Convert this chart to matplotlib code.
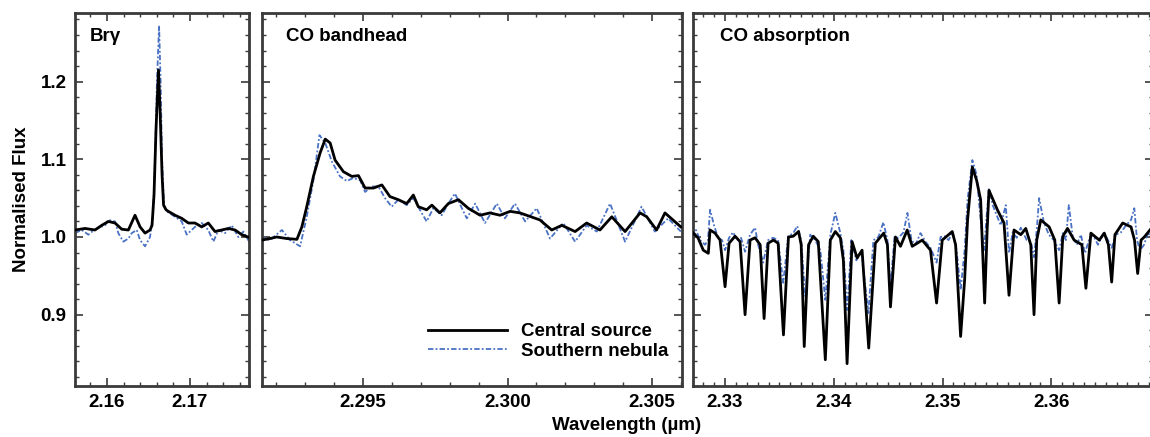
import numpy as np
import matplotlib
matplotlib.use("Agg")
import matplotlib.pyplot as plt
from matplotlib.ticker import MultipleLocator

plt.rcParams['font.family'] = ['Liberation Sans', 'DejaVu Sans']
plt.rcParams['font.weight'] = 'bold'

# --- Br gamma panel ---
brg_wave_c = [2.15614, 2.15735, 2.15855, 2.15936, 2.16016, 2.16096, 2.16177, 2.16257,
              2.16337, 2.16398, 2.16458, 2.16518, 2.16542, 2.16566, 2.16590, 2.16620,
              2.16639, 2.16663, 2.16681, 2.16711, 2.16739, 2.16819, 2.16900, 2.16980,
              2.17060, 2.17141, 2.17220, 2.17301, 2.17382, 2.17461, 2.17542, 2.17623, 2.17723]
brg_flux_c = [1.009, 1.011, 1.009, 1.015, 1.020, 1.018, 1.010, 1.009,
              1.028, 1.013, 1.005, 1.009, 1.015, 1.054, 1.138, 1.215,
              1.163, 1.080, 1.041, 1.035, 1.033, 1.028, 1.024, 1.018,
              1.018, 1.013, 1.018, 1.007, 1.009, 1.011, 1.009, 1.003, 0.999]
brg_wave_n = [2.15614, 2.15695, 2.15775, 2.15855, 2.15976, 2.16016, 2.16096, 2.16136,
              2.16196, 2.16257, 2.16298, 2.16358, 2.16398, 2.16458, 2.16518, 2.16554,
              2.16578, 2.16602, 2.16627, 2.16645, 2.16663, 2.16687, 2.16719, 2.16819,
              2.16900, 2.16960, 2.17020, 2.17060, 2.17141, 2.17220, 2.17281, 2.17341,
              2.17422, 2.17502, 2.17582, 2.17643, 2.17723]
brg_flux_n = [1.005, 1.009, 1.003, 1.010, 1.015, 1.022, 1.020, 1.005,
              0.994, 0.998, 1.005, 1.009, 0.996, 0.988, 1.000, 1.028,
              1.099, 1.202, 1.272, 1.202, 1.099, 1.041, 1.033, 1.026,
              1.020, 1.003, 1.009, 1.013, 1.018, 1.009, 0.994, 1.009,
              1.005, 1.015, 1.000, 1.007, 0.992]

# --- CO bandhead panel ---
bh_wave_c = [2.29149, 2.29178, 2.29201, 2.29236, 2.29271, 2.29288, 2.29305, 2.29328,
             2.29351, 2.29369, 2.29386, 2.29403, 2.29432, 2.29461, 2.29484, 2.29507,
             2.29536, 2.29565, 2.29593, 2.29622, 2.29651, 2.29674, 2.29691, 2.29720,
             2.29738, 2.29766, 2.29795, 2.29830, 2.29864, 2.29905, 2.29939, 2.29974,
             2.30009, 2.30043, 2.30066, 2.30112, 2.30153, 2.30188, 2.30234, 2.30274,
             2.30320, 2.30361, 2.30407, 2.30459, 2.30482, 2.30516, 2.30545, 2.30600]
bh_flux_c = [0.996, 0.998, 1.000, 0.998, 0.997, 1.013, 1.039, 1.078,
             1.108, 1.126, 1.121, 1.099, 1.084, 1.078, 1.079, 1.063,
             1.063, 1.067, 1.052, 1.048, 1.043, 1.054, 1.039, 1.035,
             1.041, 1.031, 1.043, 1.048, 1.037, 1.028, 1.031, 1.028,
             1.033, 1.031, 1.028, 1.022, 1.009, 1.015, 1.007, 1.018,
             1.009, 1.026, 1.007, 1.031, 1.026, 1.009, 1.031, 1.013]
bh_wave_n = [2.29144, 2.29178, 2.29219, 2.29247, 2.29282, 2.29305, 2.29328, 2.29349,
             2.29369, 2.29392, 2.29420, 2.29444, 2.29466, 2.29490, 2.29507, 2.29530,
             2.29553, 2.29576, 2.29599, 2.29622, 2.29651, 2.29674, 2.29695, 2.29720,
             2.29743, 2.29772, 2.29795, 2.29818, 2.29842, 2.29859, 2.29888, 2.29922,
             2.29963, 2.29991, 2.30026, 2.30061, 2.30101, 2.30147, 2.30193, 2.30234,
             2.30274, 2.30309, 2.30355, 2.30407, 2.30464, 2.30510, 2.30556, 2.30600]
bh_flux_n = [1.000, 0.996, 1.009, 0.996, 0.988, 1.026, 1.073, 1.131,
             1.121, 1.097, 1.078, 1.072, 1.076, 1.073, 1.058, 1.065,
             1.065, 1.050, 1.039, 1.048, 1.041, 1.050, 1.036, 1.020,
             1.037, 1.028, 1.043, 1.056, 1.037, 1.024, 1.043, 1.018,
             1.043, 1.024, 1.043, 1.020, 1.037, 0.998, 1.018, 0.994,
             1.015, 1.007, 1.043, 0.994, 1.039, 1.007, 1.024, 1.007]

# --- CO absorption panel ---
ab_wave_c = [2.32708, 2.32751, 2.32800, 2.32846, 2.32862, 2.32908, 2.32954, 2.33000,
             2.33037, 2.33092, 2.33138, 2.33184, 2.33230, 2.33276, 2.33323, 2.33359,
             2.33396, 2.33445, 2.33488, 2.33537, 2.33583, 2.33627, 2.33676, 2.33700,
             2.33728, 2.33768, 2.33811, 2.33857, 2.33922, 2.33968, 2.34014, 2.34060,
             2.34088, 2.34122, 2.34168, 2.34214, 2.34260, 2.34321, 2.34382, 2.34459,
             2.34493, 2.34521, 2.34567, 2.34613, 2.34675, 2.34721, 2.34813, 2.34889,
             2.34945, 2.34997, 2.35089, 2.35120, 2.35166, 2.35203, 2.35230, 2.35274,
             2.35313, 2.35350, 2.35387, 2.35410, 2.35427, 2.35504, 2.35565, 2.35611,
             2.35657, 2.35719, 2.35765, 2.35811, 2.35841, 2.35866, 2.35903, 2.35980,
             2.36032, 2.36072, 2.36106, 2.36149, 2.36210, 2.36281, 2.36318, 2.36364,
             2.36441, 2.36487, 2.36525, 2.36555, 2.36585, 2.36656, 2.36733, 2.36765,
             2.36794, 2.36825, 2.36855, 2.36930]
ab_flux_c = [1.005, 0.999, 0.983, 0.979, 1.009, 1.005, 0.996, 0.936,
             0.992, 1.001, 0.994, 0.900, 0.996, 0.999, 0.990, 0.895,
             0.992, 0.996, 0.992, 0.874, 1.000, 1.001, 1.007, 0.990,
             0.859, 0.990, 1.001, 0.994, 0.842, 0.996, 1.007, 0.999,
             0.970, 0.837, 0.994, 0.973, 0.983, 0.857, 0.992, 1.005,
             0.990, 0.910, 1.000, 0.988, 1.009, 0.988, 0.996, 0.983,
             0.915, 0.996, 1.007, 0.990, 0.872, 0.945, 1.022, 1.090,
             1.073, 1.048, 0.915, 1.009, 1.060, 1.035, 1.018, 0.925,
             1.009, 1.003, 1.011, 0.990, 0.900, 0.996, 1.022, 1.013,
             0.996, 0.915, 1.001, 1.011, 0.996, 0.990, 0.934, 1.005,
             0.996, 1.005, 0.990, 0.942, 1.003, 1.018, 1.013, 0.996,
             0.953, 0.996, 1.000, 1.013]
ab_wave_n = [2.32708, 2.32733, 2.32770, 2.32816, 2.32843, 2.32862, 2.32899, 2.32935,
             2.32972, 2.33000, 2.33037, 2.33074, 2.33111, 2.33147, 2.33184, 2.33230,
             2.33276, 2.33304, 2.33350, 2.33396, 2.33442, 2.33488, 2.33535, 2.33581,
             2.33627, 2.33664, 2.33700, 2.33737, 2.33783, 2.33829, 2.33876, 2.33922,
             2.33968, 2.34014, 2.34060, 2.34088, 2.34124, 2.34161, 2.34207, 2.34253,
             2.34318, 2.34364, 2.34410, 2.34456, 2.34493, 2.34521, 2.34558, 2.34594,
             2.34641, 2.34677, 2.34714, 2.34751, 2.34797, 2.34843, 2.34889, 2.34945,
             2.34982, 2.35018, 2.35055, 2.35092, 2.35129, 2.35166, 2.35203, 2.35230,
             2.35274, 2.35313, 2.35350, 2.35381, 2.35406, 2.35427, 2.35461, 2.35498,
             2.35535, 2.35581, 2.35611, 2.35645, 2.35682, 2.35719, 2.35774, 2.35811,
             2.35841, 2.35866, 2.35888, 2.35931, 2.35977, 2.36023, 2.36072, 2.36106,
             2.36134, 2.36161, 2.36198, 2.36235, 2.36272, 2.36309, 2.36346, 2.36382,
             2.36429, 2.36484, 2.36521, 2.36555, 2.36594, 2.36641, 2.36687, 2.36733,
             2.36763, 2.36788, 2.36816, 2.36853, 2.36889, 2.36930]
ab_flux_n = [0.999, 1.009, 0.996, 0.990, 0.996, 1.035, 1.015, 0.999,
             0.996, 0.983, 0.999, 1.006, 0.996, 0.999, 0.981, 1.003,
             1.012, 0.990, 0.967, 0.996, 0.999, 0.996, 0.941, 1.001,
             1.005, 1.014, 0.996, 0.923, 1.003, 0.996, 0.983, 0.919,
             1.003, 1.031, 1.005, 0.983, 0.906, 0.996, 0.970, 0.981,
             0.902, 0.996, 1.000, 1.019, 0.996, 0.936, 1.000, 0.999,
             1.006, 1.031, 0.996, 0.990, 1.005, 0.994, 0.986, 0.967,
             1.000, 1.001, 0.996, 1.006, 0.983, 0.932, 0.983, 1.048,
             1.099, 1.080, 1.022, 0.983, 1.028, 1.063, 1.041, 1.028,
             1.015, 1.041, 0.979, 1.006, 0.999, 1.012, 0.996, 0.994,
             0.974, 1.009, 1.050, 1.019, 1.003, 0.996, 0.983, 1.005,
             0.996, 1.041, 0.999, 0.990, 1.003, 0.979, 0.996, 1.003,
             0.990, 1.006, 0.996, 0.986, 1.003, 1.006, 1.015, 1.022,
             1.037, 0.996, 0.983, 0.990, 1.006, 0.996]

panel_titles = ['Brγ', 'CO bandhead', 'CO absorption']
xlims = [(2.15614, 2.17714), (2.29149, 2.30603), (2.32708, 2.36935)]
x_major = [0.01, 0.005, 0.01]
x_minor = [0.002, 0.001, 0.001]
xtick_fmt = ['{:.2f}', '{:.3f}', '{:.2f}']
series_c = [(brg_wave_c, brg_flux_c), (bh_wave_c, bh_flux_c), (ab_wave_c, ab_flux_c)]
series_n = [(brg_wave_n, brg_flux_n), (bh_wave_n, bh_flux_n), (ab_wave_n, ab_flux_n)]

W, H = 1150, 437
fig = plt.figure(figsize=(W / 100, H / 100), dpi=100)
bottom, top = 386, 12.7
boxes = [(75, 249.3), (261.7, 681.7), (693.3, 1153)]
fs = 13.5

blue = '#4a72c4'
spine_col = '#3a3a3a'
axes = []
for i, (x0, x1) in enumerate(boxes):
    ax = fig.add_axes([x0 / W, 1 - bottom / H, (x1 - x0) / W, (bottom - top) / H])
    axes.append(ax)
    wc, fc = series_c[i]
    wn, fn = series_n[i]
    ax.plot(wc, fc, color='black', lw=2.0, label='Central source', zorder=3,
            solid_joinstyle='round')
    ax.plot(wn, fn, color=blue, lw=1.3, linestyle=(0, (3, 1.2, 1, 1.2)),
            label='Southern nebula', zorder=2)
    ax.set_xlim(*xlims[i])
    ax.set_ylim(0.8082, 1.2887)
    ax.xaxis.set_major_locator(MultipleLocator(x_major[i]))
    ax.xaxis.set_minor_locator(MultipleLocator(x_minor[i]))
    ax.yaxis.set_major_locator(MultipleLocator(0.1))
    ax.yaxis.set_minor_locator(MultipleLocator(0.02))
    fmt = xtick_fmt[i]
    ax.xaxis.set_major_formatter(plt.FuncFormatter(lambda v, p, f=fmt: f.format(v)))
    ax.yaxis.set_major_formatter(plt.FuncFormatter(lambda v, p: '{:.1f}'.format(v)))
    ax.tick_params(which='both', direction='in', top=True, right=True,
                   color=spine_col, labelsize=fs, pad=6)
    ax.tick_params(which='major', length=6, width=1.2)
    ax.tick_params(which='minor', length=3, width=1.0)
    if i > 0:
        ax.tick_params(labelleft=False)
    for s in ax.spines.values():
        s.set_color(spine_col)
        s.set_linewidth(2)
    ax.text(0.057 if i else 0.085, 0.96, panel_titles[i], transform=ax.transAxes,
            ha='left', va='top', fontsize=fs, fontweight='bold')

axes[0].set_ylabel('Normalised Flux', fontsize=fs, fontweight='bold', labelpad=8)
axes[1].legend(loc='lower right', bbox_to_anchor=(0.968, 0.07), frameon=False,
               fontsize=fs, handlelength=4.2, handletextpad=0.75,
               labelspacing=0.12, borderpad=0, borderaxespad=0)
fig.text(627 / W, 1 - 425 / H, 'Wavelength (µm)', ha='center', va='center',
         fontsize=fs, fontweight='bold')

fig.savefig('out.png', dpi=100)
